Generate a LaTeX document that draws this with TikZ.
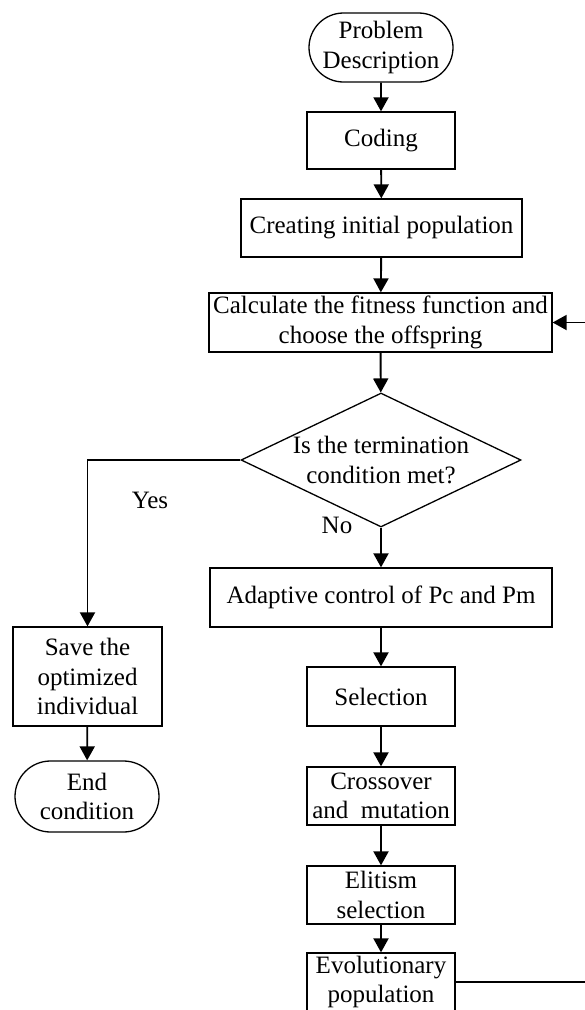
\documentclass[tikz,border=0pt]{standalone}
\usepackage{fontspec}
\setmainfont{Liberation Serif}
\usetikzlibrary{shapes.geometric,shapes.misc,arrows.meta}

\tikzset{
  block/.style={draw, line width=1.3pt, rectangle, inner sep=2pt, align=center, minimum width=148pt},
  term/.style={draw, line width=1.3pt, rounded rectangle, inner sep=2pt, align=center, minimum width=148pt},
  decision/.style={draw, line width=1.3pt, diamond, aspect=2.09, inner sep=0pt, align=center, minimum width=280pt, minimum height=134pt},
  arr/.style={line width=1.9pt, -{Triangle[length=14pt,width=15pt]}},
  lbl/.style={inner sep=0pt}
}

\begin{document}
\begin{tikzpicture}[x=1pt, y=-1pt, font=\fontsize{25}{29.5}\selectfont]
  \useasboundingbox (0,0) rectangle (585,1010);

  % main column
  \node [term, minimum height=69pt] (prob) at (381,47.5) {Problem\\Description};
  \node [block, minimum height=57pt] (cod) at (381,140.5) {Coding};
  \node [block, minimum width=281pt, minimum height=58pt] (init) at (381.5,228) {Creating initial population};
  \node [block, minimum width=343pt, minimum height=59pt] (calc) at (380.5,322.5) {Calculate the fitness function and\\choose the offspring};
  \node [decision] (dec) at (381,460) {Is the termination\\condition met?};
  \node [block, minimum width=342pt, minimum height=59pt] (adapt) at (381,597.5) {Adaptive control of Pc and Pm};
  \node [block, minimum height=59pt] (sel) at (381,696.5) {Selection};
  \node [block, minimum height=58pt] (cross) at (381,796) {Crossover\\and\ \ mutation};
  \node [block, minimum height=58pt] (elit) at (381,895) {Elitism\\selection};
  \node [block, minimum height=58pt] (evo) at (381,982) {Evolutionary\\population};

  % left branch
  \node [block, minimum width=149pt, minimum height=99pt] (save) at (87.5,676.5) {Save the\\optimized\\individual};
  \node [term, minimum height=71pt] (fin) at (87,796.5) {End\\condition};

  \node [lbl] (yes) at (150,500) {Yes};
  \node [lbl] (no) at (337,525) {No};

  \coordinate (loopc) at (600,982);

  \draw [arr] (prob) -- (cod);
  \draw [arr] (cod) -- (init);
  \draw [arr] (init) -- (calc);
  \draw [arr] (calc) -- (dec);
  \draw [arr] (dec) -- (adapt);
  \draw [arr] (adapt) -- (sel);
  \draw [arr] (sel) -- (cross);
  \draw [arr] (cross) -- (elit);
  \draw [arr] (elit) -- (evo);
  \draw [arr] (dec.west) -| (save.north);
  \draw [arr] (save) -- (fin);
  \draw [arr] (evo.east) -- (loopc) |- (calc.east);
\end{tikzpicture}
\end{document}
